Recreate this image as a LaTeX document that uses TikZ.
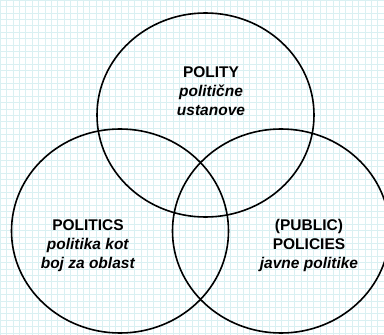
\documentclass[tikz,border=0pt]{standalone}
\usepackage{fontspec}
\setmainfont{Liberation Sans}
\usepackage{tikz}

\definecolor{gridcyan}{RGB}{218,240,242}

\begin{document}
\begin{tikzpicture}[x=1pt,y=-1pt,
  ring/.style={line width=1.6pt},
  label/.style={align=center,inner sep=0pt,anchor=base,font=\fontsize{15.5}{19}\selectfont}]

\useasboundingbox (0,0) rectangle (384,335);
\fill[white] (0,0) rectangle (384,335);
\draw[gridcyan,line width=0.4pt,step=6.4pt] (0,0) grid (384,335);

\coordinate (polity) at (205.5,115);
\coordinate (politics) at (120,231);
\coordinate (policies) at (281,231);

\draw[ring] (polity) ellipse (108.5 and 102);
\draw[ring] (politics) ellipse (108.5 and 102);
\draw[ring] (policies) ellipse (108.5 and 102);

% anchor=base sits on the last line
\node[label] (politytext) at (211,115) {\textbf{POLITY}\\\textbf{\textit{politične}}\\\textbf{\textit{ustanove}}};
\node[label] (politicstext) at (88,268) {\textbf{POLITICS}\\\textbf{\textit{politika kot}}\\\textbf{\textit{boj za oblast}}};
\node[label] (policiestext) at (309,268) {\textbf{(PUBLIC)}\\\textbf{POLICIES}\\\textbf{\textit{javne politike}}};

\end{tikzpicture}
\end{document}
